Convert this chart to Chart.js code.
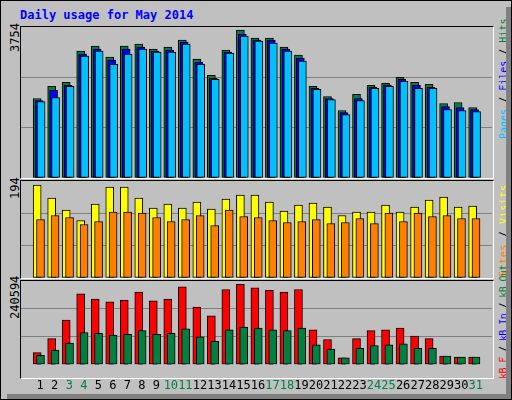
<!DOCTYPE html>
<html><head><meta charset="utf-8">
<script src="https://cdn.jsdelivr.net/npm/chart.js@4"></script>
<style>
body{margin:0;background:#fff}
#wrap{position:absolute;left:0;top:0;width:510px;height:398px;background:#C0C0C0;border:1px solid #000;overflow:hidden;font-family:"DejaVu Sans Mono",monospace}
#wrap:after{content:"";position:absolute;right:0;top:6px;width:5px;height:392px;background:#808080}
#wrap:before{content:"";position:absolute;left:6px;bottom:0;height:5px;width:504px;background:#808080}
.frame{position:absolute;border-top:1px solid #000;border-left:1px solid #000;border-right:1px solid #fff;border-bottom:1px solid #fff;box-sizing:border-box}
canvas{position:absolute}
.rl{position:absolute;transform:rotate(-90deg);transform-origin:left top;white-space:nowrap;font-size:12px}
.rr{font-size:10px;color:#000}
#title{position:absolute;left:19px;top:7px;color:#0000FF;font-weight:bold;font-size:12px}
</style></head><body>
<div id="wrap">
<div id="title">Daily usage for May 2014</div>
<div class="frame" style="left:19px;top:25px;width:474px;height:153px"></div>
<div class="frame" style="left:19px;top:179px;width:474px;height:99px"></div>
<div class="frame" style="left:19px;top:279px;width:474px;height:99px"></div>
<div class="rl" style="left:7px;top:51px">3754</div>
<div class="rl" style="left:7px;top:198px">194</div>
<div class="rl" style="left:7px;top:318px">240594</div>
<div class="rl rr" style="left:497px;top:138px"><span style="color:#00C0FF">Pages</span> / <span style="color:#0000FF">Files</span> / <span style="color:#008040">Hits</span></div>
<div class="rl rr" style="left:497px;top:276px;letter-spacing:0.6px"><span style="color:#FF8000">Sites</span> / <span style="color:#FFFF00">Visits</span></div>
<div class="rl rr" style="left:497px;top:378px;letter-spacing:-0.6px"><span style="color:#FF0000">kB F</span> / <span style="color:#0000FF">kB In</span> / <span style="color:#008040">kB Out</span></div>
<canvas id="c1" style="left:20px;top:26px" width="471" height="151"></canvas>
<canvas id="c2" style="left:20px;top:180px" width="471" height="97"></canvas>
<canvas id="c3" style="left:20px;top:280px" width="471" height="118"></canvas>
</div>
<script>
const days=[1,2,3,4,5,6,7,8,9,10,11,12,13,14,15,16,17,18,19,20,21,22,23,24,25,26,27,28,29,30,31];
const weekend=[3,4,10,11,17,18,24,25,31];
const hits=[1977,2278,2378,3154,3279,3004,3279,3329,3204,3254,3429,2954,2553,3179,3679,3479,3479,3254,3054,2278,2027,1677,2078,2303,2353,2503,2378,2328,1852,1877,1752];
const files=[1927,2178,2303,3079,3204,2929,3204,3254,3154,3179,3379,2879,2478,3129,3579,3429,3429,3204,2979,2228,1977,1627,1977,2253,2303,2453,2303,2253,1777,1752,1702];
const pages=[1902,2002,2278,3029,3154,2828,3079,3204,3129,3129,3329,2828,2453,3104,3529,3404,3354,3154,2904,2203,1952,1577,1927,2228,2278,2403,2228,2228,1702,1677,1652];
const visits=[186,160,136,115,148,182,182,160,140,148,140,152,138,158,166,166,152,134,146,150,142,125,132,132,146,132,142,156,162,142,144];
const sites=[117,125,121,107,113,132,132,130,121,113,117,125,105,136,123,121,115,111,113,117,109,111,119,109,130,113,130,123,125,119,119];
const kbF=[34481,74849,127832,203522,188384,180815,185861,208568,183338,188384,223706,165677,140447,216137,231275,221183,213614,208568,216137,100079,72326,19343,74849,97556,100079,105125,82418,74849,24389,21866,21866];
const kbIn=[600,600,600,600,600,600,600,600,600,600,600,600,600,600,600,600,600,600,600,600,600,600,600,600,600,600,600,600,600,600,600];
const kbOut=[26912,42050,62234,92510,89987,84941,87464,97556,87464,89987,102602,79895,67280,100079,107648,105125,100079,97556,105125,57188,44573,19343,47096,54665,57188,59711,47096,47096,24389,21866,21866];
const maxes=[3754,194,240594];

function ds(vals,off,color,w){
  return {data:vals.map((v,i)=>({x:days[i]+off,y:v})),backgroundColor:color,borderColor:'#000',borderWidth:1,borderSkipped:false,barThickness:w,grouped:false};
}
function make(id,sets,max,showX){
  new Chart(document.getElementById(id),{type:'bar',data:{datasets:sets},
  options:{responsive:false,animation:false,events:[],layout:{padding:0},
   plugins:{legend:{display:false},tooltip:{enabled:false}},
   scales:{
    x:{type:'linear',min:0.2,max:31.6,display:showX,grid:{display:false},border:{display:false},
       afterBuildTicks:s=>{s.ticks=days.map(d=>({value:d}));},
       ticks:{autoSkip:false,maxRotation:0,padding:6,font:{family:'DejaVu Sans Mono',size:12},
        callback:v=>String(v),
        color:c=>weekend.includes(c.tick.value)?'#008040':'#000'}},
    y:{min:0,max:max,display:true,border:{display:false},
       grid:{color:c=>(c.tick.value>0&&c.tick.value<max)?'#808080':'rgba(0,0,0,0)',drawTicks:false,lineWidth:1},
       ticks:{display:false,stepSize:max/3},afterFit:s=>{s.width=0}}
   }}});
}
make('c1',[ds(pages,0.06,'#00C0FF',8),ds(files,-0.08,'#0000FF',8),ds(hits,-0.21,'#008040',8)],maxes[0],false);
make('c2',[ds(sites,0.02,'#FF8000',8),ds(visits,-0.21,'#FFFF00',8)],maxes[1],false);
make('c3',[ds(kbOut,0.02,'#008040',8),ds(kbIn,-0.1,'#0000FF',4),ds(kbF,-0.21,'#FF0000',8)],maxes[2],true);
</script>
</body></html>
